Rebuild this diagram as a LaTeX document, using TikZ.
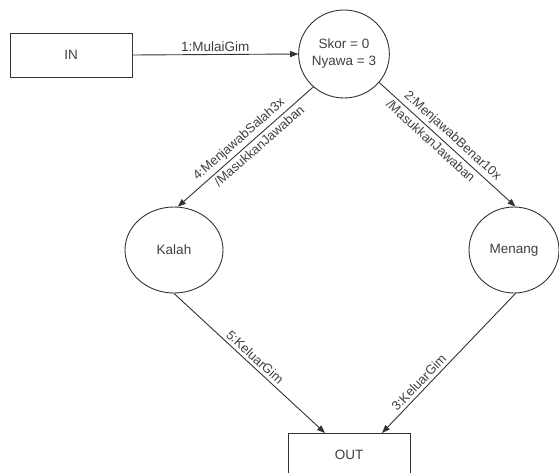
\documentclass[tikz,border=0pt]{standalone}
\usepackage{fontspec}
\setmainfont{Liberation Sans}
\usetikzlibrary{arrows.meta,shapes.geometric}
\begin{document}
\begin{tikzpicture}[x=1pt,y=-1pt,
  every node/.style={font=\fontsize{13.5}{17}\selectfont, text=black!75},
  boxnode/.style={draw=black!80, line width=0.9pt, rectangle, inner sep=0pt},
  statenode/.style={draw=black!80, line width=0.9pt, ellipse, inner sep=0pt, align=center},
  conn/.style={draw=black!80, line width=0.9pt, -{Triangle[length=8pt,width=6pt]}},
  elabel/.style={sloped, inner sep=3pt, font=\fontsize{13}{15}\selectfont}
]
\clip (0,0) rectangle (559,472);
\fill[white] (0,0) rectangle (559,472);

\node[boxnode, minimum width=122pt, minimum height=44pt] (in) at (71,55) {IN};
\node[statenode, minimum width=86pt, minimum height=88pt] (start) at (344,54) {Skor = 0\\Nyawa = 3};
\node[statenode, minimum width=98pt, minimum height=86pt] (kalah) at (174,250) {Kalah};
\node[statenode, minimum width=90pt, minimum height=86pt] (menang) at (514,250) {Menang};
\node[boxnode, minimum width=122pt, minimum height=50pt, anchor=north west] (out) at (288,433) {};
\node (outtext) at (349,455) {OUT};

\coordinate (outl) at ([xshift=37pt]out.north west);
\coordinate (outr) at ([xshift=94pt]out.north west);

\draw[conn] (in.east) -- node[above, inner sep=2pt] {1:MulaiGim} (start.west);
\draw[conn] (start.227) -- node[elabel, pos=0.5, above] {4:MenjawabSalah3x}
                           node[elabel, pos=0.44, below] {/MasukkanJawaban} (kalah.85);
\draw[conn] (start.321) -- node[elabel, pos=0.49, above] {2:MenjawabBenar10x}
                           node[elabel, pos=0.42, below] {/MasukkanJawaban} (menang.88);
\draw[conn] (kalah.south) -- node[elabel, pos=0.5, above] {5:KeluarGim} (outl);
\draw[conn] (menang.272) -- node[elabel, pos=0.68, above] {3:KeluarGim} (outr);
\end{tikzpicture}
\end{document}
